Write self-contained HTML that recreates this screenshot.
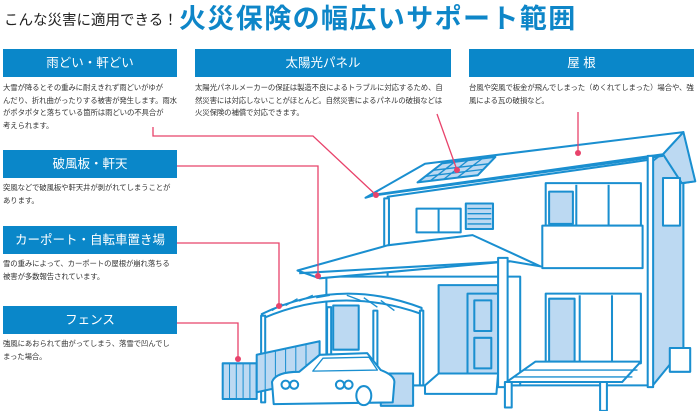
<!DOCTYPE html>
<html><head><meta charset="utf-8"><style>
*{margin:0;padding:0;box-sizing:border-box}
body{width:700px;height:411px;background:#fff;position:relative;overflow:hidden;font-family:"Liberation Sans","Noto Sans CJK JP",sans-serif}
.t1{position:absolute;left:4px;top:9px;font-size:14.5px;color:#222;white-space:nowrap}
.t2{position:absolute;left:179px;top:3px;font-size:27px;font-weight:bold;color:#0e86c8;letter-spacing:1.4px;white-space:nowrap;line-height:32px}
.h{position:absolute;background:#0a87c9;color:#fff;font-size:12.5px;text-align:center;line-height:28px;height:28px}
.p{position:absolute;font-size:7.4px;line-height:12.6px;color:#333;white-space:nowrap;letter-spacing:-0.1px}
svg{position:absolute;left:0;top:0}
</style></head><body>
<div class="t1">こんな災害に適用できる！</div>
<div class="t2">火災保険の幅広いサポート範囲</div>

<div class="h" style="left:3px;top:49px;width:174px">雨どい・軒どい</div>
<div class="p" style="left:3px;top:82px">大雪が降るとその重みに耐えきれず雨どいがゆが<br>んだり、折れ曲がったりする被害が発生します。雨水<br>がポタポタと落ちている箇所は雨どいの不具合が<br>考えられます。</div>
<div class="h" style="left:195px;top:49px;width:256px">太陽光パネル</div>
<div class="p" style="left:195px;top:82px">太陽光パネルメーカーの保証は製造不良によるトラブルに対応するため、自<br>然災害には対応しないことがほとんど。自然災害によるパネルの破損などは<br>火災保険の補償で対応できます。</div>
<div class="h" style="left:469px;top:49px;width:225px">屋 根</div>
<div class="p" style="left:469px;top:82px">台風や突風で板金が飛んでしまった（めくれてしまった）場合や、強<br>風による瓦の破損など。</div>

<div class="h" style="left:3px;top:150px;width:174px">破風板・軒天</div>
<div class="p" style="left:3px;top:182px">突風などで破風板や軒天井が剥がれてしまうことが<br>あります。</div>
<div class="h" style="left:3px;top:226px;width:174px">カーポート・自転車置き場</div>
<div class="p" style="left:3px;top:258px">雪の重みによって、カーポートの屋根が崩れ落ちる<br>被害が多数報告されています。</div>
<div class="h" style="left:3px;top:306px;width:174px">フェンス</div>
<div class="p" style="left:3px;top:338px">強風にあおられて曲がってしまう、落雪で凹んでし<br>まった場合。</div>

<svg width="700" height="411" viewBox="0 0 700 411">
<g transform="translate(170,110) scale(0.34)" stroke="#1a8fd0" stroke-width="6" stroke-linejoin="round" fill="#fff">
 <polygon points="1420,150 1490,95 1540,210 1510,215 1510,700 1420,810" fill="#bcd9f2"/>
 <polygon points="1450,130 1510,65 1545,210 1505,215" fill="#bcd9f2"/>
 <polygon points="640,255 1420,145 1420,810 640,810" />
 <polygon points="575,258 750,158 1510,65 1450,130 610,248" />
 <line x1="610" y1="250" x2="1450" y2="135"/>
 <polygon points="728,213 800,157 957,138 905,192" fill="#bcd9f2"/>
 <path d="M766,208 L838,152 M806,203 L878,147 M846,198 L918,143 M752,195 L920,175 M776,177 L940,158" fill="none" stroke-width="4"/>
 <rect x="630" y="260" width="14" height="140"/>
 <rect x="1405" y="135" width="16" height="680"/>
 <rect x="725" y="290" width="130" height="70"/>
 <line x1="790" y1="290" x2="790" y2="360"/>
 <rect x="870" y="275" width="80" height="75" fill="#bcd9f2"/>
 <path d="M875,290 H945 M875,305 H945 M875,320 H945 M875,335 H945" stroke-width="4"/>
 <rect x="1105" y="215" width="280" height="125"/>
 <rect x="1115" y="240" width="70" height="95" fill="#bcd9f2"/>
 <line x1="1195" y1="220" x2="1195" y2="340"/><line x1="1290" y1="220" x2="1290" y2="340"/>
 <rect x="1095" y="340" width="295" height="125"/>
 <rect x="1450" y="200" width="50" height="140" fill="#fff"/>
 <rect x="460" y="490" width="570" height="320"/>
 <polygon points="375,472 640,398 890,368 1090,460 1000,445 440,495" />
 <line x1="380" y1="480" x2="1000" y2="445"/>
 <rect x="790" y="515" width="175" height="262" fill="#bcd9f2"/>
 <rect x="875" y="540" width="90" height="237" fill="#bcd9f2"/>
 <rect x="895" y="560" width="50" height="90" fill="#bcd9f2"/><rect x="895" y="670" width="50" height="90" fill="#bcd9f2"/>
 <polygon points="750,810 790,775 965,775 960,835 750,835"/>
 <rect x="965" y="435" width="28" height="380"/>
 <rect x="1105" y="540" width="280" height="205"/>
 <rect x="1115" y="555" width="75" height="185" fill="#bcd9f2"/>
 <line x1="1205" y1="545" x2="1205" y2="745"/><line x1="1300" y1="545" x2="1300" y2="745"/>
 <polygon points="990,800 1075,740 1385,740 1330,800"/>
 <path d="M1010,785 L1360,785 M1040,765 L1375,765" stroke-width="4"/>
 <rect x="985" y="800" width="20" height="75"/><rect x="1265" y="800" width="20" height="85"/>
 <rect x="1470" y="700" width="60" height="70"/>
 <rect x="480" y="575" width="75" height="130" fill="#bcd9f2"/>
 <path d="M270,600 Q500,490 740,582 L740,600 Q500,515 275,612 Z" fill="#fff"/>
 <path d="M300,590 L330,570 M340,575 L375,555 M380,562 L420,545 M430,552 L470,545 M520,545 L560,560 M570,552 L610,580 M620,560 L660,590" stroke-width="4"/>
 <rect x="268" y="605" width="12" height="255"/><rect x="462" y="580" width="12" height="140"/><rect x="598" y="590" width="12" height="270"/><rect x="735" y="590" width="10" height="220"/>
 <rect x="155" y="745" width="100" height="105" fill="#bcd9f2"/>
 <polygon points="255,720 440,680 440,790 255,830" fill="#bcd9f2"/>
 <path d="M175,745 V850 M195,745 V850 M215,745 V850 M235,745 V850 M280,715 V825 M310,708 V818 M340,702 V812 M370,695 V805 M400,688 V798" stroke-width="3"/>
 <rect x="620" y="775" width="95" height="95" fill="#bcd9f2"/>
 <path d="M300,800 Q310,770 380,770 L440,720 L580,715 L620,765 Q660,780 660,800 L655,860 L305,865 Z" fill="#fff"/>
 <path d="M450,730 L585,727 L610,765 L420,768 Z" fill="#fff" stroke-width="4"/>
 <circle cx="340" cy="808" r="12"/><circle cx="365" cy="808" r="12"/><circle cx="500" cy="808" r="12"/><circle cx="525" cy="808" r="12"/>
 <ellipse cx="570" cy="840" rx="22" ry="28"/>
</g>
<g stroke="#e8436b" stroke-width="1.3" fill="none">
 <polyline points="153,127 153,136 313,136 376,195"/>
 <line x1="437" y1="114" x2="457" y2="170"/>
 <line x1="578" y1="112" x2="578" y2="153"/>
 <polyline points="177,166 318,166 318,276"/>
 <polyline points="177,243 279,243 279,306"/>
 <polyline points="177,323 238,323 238,359"/>
</g>
<g fill="#e8436b">
 <circle cx="376" cy="195" r="3"/><circle cx="457" cy="170" r="3"/><circle cx="578" cy="153" r="3"/>
 <circle cx="318" cy="276" r="3"/><circle cx="279" cy="306" r="3"/><circle cx="238" cy="359" r="3"/>
</g>
</svg>
</body></html>
